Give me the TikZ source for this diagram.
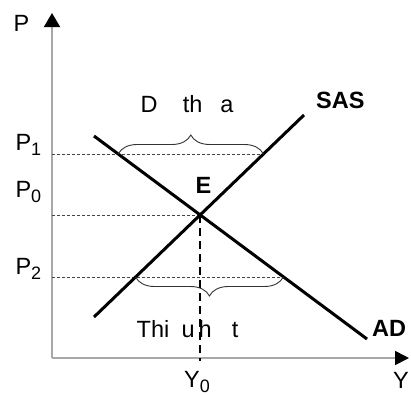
\documentclass[tikz,border=0pt]{standalone}
\usepackage{fontspec}
\setmainfont{Liberation Sans}
\usetikzlibrary{arrows.meta,decorations.pathreplacing}
\definecolor{axisgray}{HTML}{A8A8A8}
\definecolor{guidegray}{HTML}{444444}
\definecolor{bracegray}{HTML}{333333}
\newcommand\lsub[1]{\raisebox{-0.25em}{\fontsize{18}{18}\selectfont #1}}
\begin{document}
\begin{tikzpicture}[x=1pt,y=-1pt,
  lbl/.style={anchor=base west,inner sep=0pt,font=\fontsize{23.5}{25}\selectfont},
  blbl/.style={anchor=base west,inner sep=0pt,font=\fontsize{23.5}{25}\selectfont\bfseries},
  axisline/.style={draw=axisgray,line width=1.6pt},
  curve/.style={line width=3pt},
  guide/.style={draw=guidegray,line width=0.7pt,dash pattern=on 3pt off 2pt},
  vguide/.style={line width=2.6pt,dash pattern=on 8pt off 5pt},
  bracestyle/.style={draw=bracegray,line width=0.9pt,decorate,decoration={brace,amplitude=19pt}}]
\useasboundingbox (0,0) rectangle (411,394);
% axes
\coordinate (O) at (52,358);
\coordinate (ytip) at (52,13);
\coordinate (xtip) at (409,358);
\draw[axisline,-{Triangle[length=14pt,width=16pt,color=black]}] (O) -- (ytip);
\draw[axisline,-{Triangle[length=14pt,width=14pt,color=black]}] (O) -- (xtip);
% curve end points
\coordinate (E) at (200,215);
\coordinate (sasA) at (94,317);
\coordinate (sasB) at (304,115);
\coordinate (adA) at (94,136);
\coordinate (adB) at (367,339);
% guide points
\coordinate (p1axis) at (52,154);
\coordinate (p1ad) at (118.2,154);
\coordinate (p1sas) at (263.4,154);
\coordinate (p0axis) at (52,215);
\coordinate (p2axis) at (52,277);
\coordinate (p2sas) at (135.6,277);
\coordinate (p2ad) at (283.3,277);
\coordinate (y0axis) at (200,361);
% guides
\draw[guide] (p1axis) -- (p1sas);
\draw[guide] (p0axis) -- (E);
\draw[guide] (p2axis) -- (p2ad);
\draw[vguide] (E) -- (y0axis);
% curves
\draw[curve] (sasA) -- (sasB);
\draw[curve] (adA) -- (adB);
% braces
\draw[bracestyle] (p1ad) -- (p1sas);
\draw[bracestyle,decoration={mirror}] (p2sas) -- (p2ad);
% labels
\node[lbl] (lp) at (13.3,31) {P};
\node[lbl] (lp1) at (15.3,150) {P\lsub{1}};
\node[lbl] (lp0) at (15.3,197) {P\lsub{0}};
\node[lbl] (lp2) at (15.3,274) {P\lsub{2}};
\node[lbl] (ly0) at (184,387) {Y\lsub{0}};
\node[lbl] (ly) at (393,388) {Y};
\node[blbl] (lsas) at (316,108) {SAS};
\node[blbl] (le) at (195.4,193) {E};
\node[blbl] (lad) at (372,336) {AD};
\node[lbl] (ldu) at (140.3,112) {D\hspace{25.3pt}th\hspace{18pt}a};
\node[lbl] (lthieu) at (136.5,337) {Thi\hspace{12.4pt}u\hspace{3.9pt}h\hspace{20pt}t};
\end{tikzpicture}
\end{document}
